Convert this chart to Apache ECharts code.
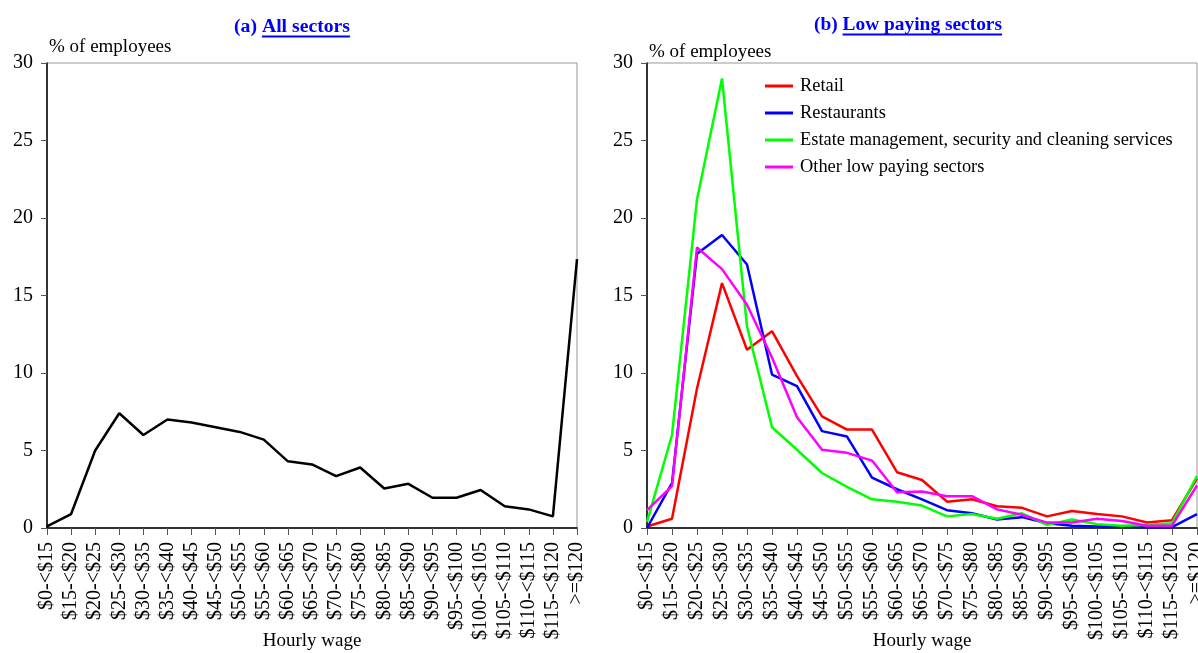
<!DOCTYPE html>
<html>
<head>
<meta charset="utf-8">
<script src="https://cdn.jsdelivr.net/npm/echarts@6/dist/echarts.min.js"></script>
<style>
html,body{margin:0;padding:0;background:#fff;overflow:hidden;}
#chart{width:1198px;height:653px;}
</style>
</head>
<body>
<div id="chart"></div>
<script>
const categories = ['$0-<$15','$15-<$20','$20-<$25','$25-<$30','$30-<$35','$35-<$40','$40-<$45','$45-<$50','$50-<$55','$55-<$60','$60-<$65','$65-<$70','$70-<$75','$75-<$80','$80-<$85','$85-<$90','$90-<$95','$95-<$100','$100-<$105','$105-<$110','$110-<$115','$115-<$120','>=$120'];
const yTicks = [0, 5, 10, 15, 20, 25, 30];
const allSectors = [0.1, 0.9, 5.0, 7.4, 6.0, 7.0, 6.8, 6.5, 6.2, 5.7, 4.3, 4.1, 3.35, 3.9, 2.55, 2.85, 1.95, 1.95, 2.45, 1.4, 1.2, 0.75, 17.35];
const retail = [0.1, 0.6, 9.0, 15.8, 11.5, 12.7, 9.8, 7.2, 6.35, 6.35, 3.6, 3.1, 1.7, 1.85, 1.4, 1.3, 0.75, 1.1, 0.9, 0.75, 0.35, 0.5, 3.2];
const restaurants = [0, 2.9, 17.7, 18.9, 17.0, 9.9, 9.15, 6.25, 5.9, 3.25, 2.5, 1.85, 1.15, 0.95, 0.55, 0.7, 0.3, 0.15, 0.1, 0.1, 0.05, 0.05, 0.9];
const estate = [0.4, 6.0, 21.2, 29.0, 13.0, 6.5, 5.05, 3.55, 2.65, 1.85, 1.7, 1.45, 0.75, 0.9, 0.6, 0.95, 0.2, 0.55, 0.25, 0.15, 0.2, 0.3, 3.35];
const other = [1.15, 2.7, 18.1, 16.7, 14.4, 11.0, 7.15, 5.05, 4.85, 4.35, 2.3, 2.35, 2.05, 2.05, 1.2, 0.85, 0.35, 0.35, 0.6, 0.45, 0.15, 0.15, 2.75];
const seriesNames = ['Retail', 'Restaurants', 'Estate management, security and cleaning services', 'Other low paying sectors'];
const seriesColors = ['#FF0000', '#0000FF', '#00FF00', '#FF00FF'];

const FONT = "'Liberation Serif','Times New Roman',serif";
const chart = echarts.init(document.getElementById('chart'));

function measure(text, font) {
  const c = document.createElement('canvas').getContext('2d');
  c.font = font;
  return c.measureText(text).width;
}
function titleGraphic(prefix, main, centerX, y, size) {
  const titleFont = "bold " + size + "px " + FONT;
  const wp = measure(prefix, titleFont);
  const wm = measure(main, titleFont);
  const x0 = centerX - (wp + wm) / 2;
  return [
    {type: 'text', x: x0, y: y, style: {text: prefix, font: titleFont, fill: '#0000FF', textVerticalAlign: 'middle'}},
    {type: 'text', x: x0 + wp, y: y, style: {text: main, font: titleFont, fill: '#0000FF', textVerticalAlign: 'middle'}},
    {type: 'rect', shape: {x: x0 + wp, y: y + 9, width: wm, height: 2}, style: {fill: '#0000FF'}}
  ];
}

function xAxisCfg(gridIndex) {
  return {
    type: 'category', gridIndex: gridIndex, data: categories, boundaryGap: false,
    name: 'Hourly wage', nameLocation: 'middle', nameGap: 113, nameMoveOverlap: false,
    nameTextStyle: {fontFamily: FONT, fontSize: 19, color: '#000', verticalAlign: 'middle'},
    axisLine: {lineStyle: {color: '#000', width: 1.5}},
    axisTick: {show: true, interval: 0, length: 7, inside: false, lineStyle: {color: '#555'}},
    axisLabel: {interval: 0, rotate: 90, margin: 14, fontFamily: FONT, fontSize: 20, color: '#000'},
    splitLine: {show: false}
  };
}
function yAxisCfg(gridIndex, nameGap) {
  return {
    type: 'value', gridIndex: gridIndex, min: yTicks[0], max: yTicks[yTicks.length - 1], interval: 5,
    name: '% of employees', nameLocation: 'end', nameGap: nameGap, nameMoveOverlap: false,
    nameTextStyle: {fontFamily: FONT, fontSize: 19, color: '#000', align: 'left', verticalAlign: 'middle', padding: [0, 0, 0, 2]},
    axisLine: {show: true, lineStyle: {color: '#000', width: 1.5}},
    axisTick: {show: true, length: 6, inside: false, lineStyle: {color: '#555'}},
    axisLabel: {margin: 14, fontFamily: FONT, fontSize: 20, color: '#000'},
    splitLine: {show: false}
  };
}

const rightSeries = [retail, restaurants, estate, other].map((d, i) => ({
  name: seriesNames[i], type: 'line', xAxisIndex: 1, yAxisIndex: 1, data: d,
  symbol: 'none', lineStyle: {color: seriesColors[i], width: 2.5}, itemStyle: {color: seriesColors[i]},
  silent: true
}));

const option = {
  animation: false,
  backgroundColor: '#fff',
  textStyle: {fontFamily: FONT},
  grid: [
    {left: 47, right: 621, top: 63, bottom: 125, show: true, borderColor: '#999', borderWidth: 1, backgroundColor: 'transparent', containLabel: false, outerBoundsMode: 'none'},
    {left: 647, right: 1, top: 63, bottom: 125, show: true, borderColor: '#999', borderWidth: 1, backgroundColor: 'transparent', containLabel: false, outerBoundsMode: 'none'}
  ],
  xAxis: [xAxisCfg(0), xAxisCfg(1)],
  yAxis: [yAxisCfg(0, 16), yAxisCfg(1, 11)],
  legend: {
    data: seriesNames, orient: 'vertical', left: 765, top: 77, padding: 0,
    icon: 'rect', itemWidth: 28, itemHeight: 3, itemGap: 9,
    textStyle: {fontFamily: FONT, fontSize: 18.4, color: '#000', padding: [0, 0, 0, 2]}
  },
  graphic: [].concat(titleGraphic('(a) ', 'All sectors', 292, 26.5, 19.7), titleGraphic('(b) ', 'Low paying sectors', 908, 24.5, 19.4)),
  series: [
    {name: 'All sectors', type: 'line', xAxisIndex: 0, yAxisIndex: 0, data: allSectors, symbol: 'none',
     lineStyle: {color: '#000', width: 2.5}, silent: true}
  ].concat(rightSeries)
};
chart.setOption(option);
</script>
</body>
</html>
